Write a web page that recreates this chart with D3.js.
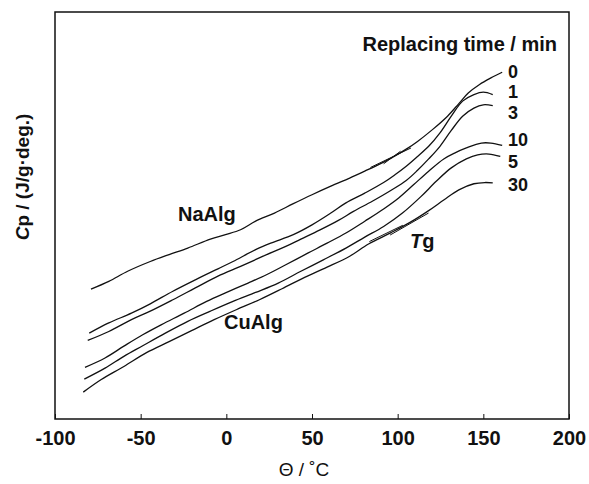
<!DOCTYPE html>
<html>
<head>
<meta charset="utf-8">
<script src="https://cdn.jsdelivr.net/npm/d3@7"></script>
<style>
  body { margin: 0; background: #fff; }
  text { font-family: "Liberation Sans", Arial, Helvetica, sans-serif; fill: #111; }
</style>
</head>
<body>
<div id="chart-area"></div>
<script>
// Cp in arbitrary units (the figure has no y tick values)
let seriesNames = ["0", "1", "3", "10", "5", "30"];

let min0 = [[-79,31.9],[-68.6,33.8],[-57.6,36.3],[-44.4,38.7],[-33.4,40.4],[-22.5,42.0],[-9.3,44.2],[-0.5,45.3],
  [8.3,46.5],[17.1,48.6],[28.1,50.6],[39.1,52.9],[50,55.1],[61,57.2],[72,59.2],[80.8,60.9],[87.4,62.2],[96.2,64.1],
  [105,66.3],[111.6,68.2],[120.3,71.1],[129.1,74.4],[135.7,77.5],[141.2,80.1],[147.8,82.2],[154.4,83.8],[161,85.2]];
let min1 = [[-80,21.1],[-68.6,23.6],[-55.4,26.0],[-44.4,28.3],[-31.2,31.4],[-18.1,34.2],[-4.9,36.9],[3.9,38.7],
  [17.1,41.6],[25.9,43.2],[39.1,45.3],[50,47.7],[61,50.6],[69.8,53.1],[80.8,55.5],[91.8,58.1],[98.4,60.0],[105,62.1],
  [111.6,64.5],[118.1,67.0],[124.7,70.3],[131.3,74.4],[137.9,78.1],[144.5,79.7],[150,80.3],[155.5,79.7]];
let min3 = [[-80.9,19.3],[-68.6,21.5],[-55.4,24.4],[-44.4,26.5],[-31.2,29.3],[-18.1,32.2],[-4.9,35.1],[8.3,37.5],
  [21.5,40.0],[34.7,42.4],[43.5,44.2],[54.4,46.4],[65.4,48.8],[74.2,51.0],[85.2,53.5],[96.2,56.2],[105,58.6],
  [111.6,61.1],[118.1,63.9],[124.7,67.0],[131.3,70.9],[137.9,74.4],[144.5,76.4],[150,77.2],[155.5,77.0]];
let min10 = [[-82.5,12.7],[-70.8,15.0],[-59.8,17.9],[-48.8,20.7],[-37.8,23.2],[-24.6,26.0],[-11.5,28.9],[-0.5,31.0],
  [12.7,33.4],[23.7,35.5],[34.7,37.9],[47.8,40.8],[58.8,43.2],[69.8,45.7],[80.8,48.6],[91.8,51.6],[100.6,54.3],
  [109.4,57.6],[118.1,60.9],[126.9,63.9],[133.5,65.4],[140.1,66.6],[148.9,67.8],[154.4,67.8],[161,67.2]];
let min5 = [[-82.9,9.8],[-70.8,12.5],[-59.8,15.4],[-48.8,18.0],[-35.6,21.1],[-22.5,24.0],[-9.3,26.5],[3.9,28.9],
  [17.1,31.1],[30.3,33.4],[43.5,36.3],[56.6,39.1],[69.8,42.0],[80.8,44.7],[91.8,47.3],[102.8,50.6],[113.7,54.7],
  [122.5,58.4],[131.3,61.7],[140.1,63.9],[146.7,64.9],[153.3,65.1],[159.9,64.5]];
let min30 = [[-83.5,6.6],[-73,9.7],[-59.8,12.9],[-46.6,16.3],[-33.4,19.0],[-20.3,21.7],[-7.1,24.4],[6.1,26.9],
  [19.3,29.3],[32.5,32.0],[45.7,34.8],[58.8,37.3],[72,40.0],[83,43.0],[96.2,45.8],[107.2,48.3],[118.1,51.2],
  [126.9,53.8],[135.7,56.3],[144.5,57.8],[150.9,58.1],[155.5,58.0]];

let curves = [min0, min1, min3, min10, min5, min30];

// tangent construction lines at Tg
let tgNa = [[[84.1,61.8],[107.8,66.6]], [[91.8,62.7],[101.7,65.8]]];
let tgCu = [[[83.5,43.6],[103,47.6]], [[95.6,45.2],[118,50.6]]];

let xTicks = [-100, -50, 0, 50, 100, 150, 200];

let width = 589, height = 484;
let plotLeft = 55, plotRight = 569, plotTop = 12, plotBottom = 419;

let svg = d3.select("#chart-area").append("svg")
  .attr("width", width).attr("height", height);

svg.append("rect").attr("width", width).attr("height", height).attr("fill", "#fff");

let x = d3.scaleLinear().domain([-100, 200]).range([plotLeft, plotRight]);
let y = d3.scaleLinear().domain([0, 100]).range([plotBottom, plotTop]);

// frame
svg.append("rect")
  .attr("x", plotLeft).attr("y", plotTop)
  .attr("width", plotRight - plotLeft).attr("height", plotBottom - plotTop)
  .attr("fill", "none").attr("stroke", "#111").attr("stroke-width", 1.5);

// bottom axis, ticks pointing inward, plain hyphen for negatives
let xAxis = d3.axisBottom(x).tickValues(xTicks).tickSize(-5).tickPadding(12).tickFormat(d => String(d));
let gx = svg.append("g").attr("transform", `translate(0,${plotBottom})`).call(xAxis);
gx.select(".domain").remove();
gx.selectAll("line").attr("stroke", "#111").attr("stroke-width", 1);
gx.selectAll("text")
  .attr("font-size", 20).attr("font-weight", "bold")
  .style("font-family", '"Liberation Sans", Arial, sans-serif').attr("fill", "#111");

let line = d3.line()
  .x(d => x(d[0]))
  .y(d => y(d[1]))
  .curve(d3.curveCatmullRom.alpha(0.5));

svg.selectAll("path.curve")
  .data(curves)
  .enter()
  .append("path")
    .attr("class", "curve")
    .attr("d", line)
    .attr("fill", "none")
    .attr("stroke", "#111")
    .attr("stroke-width", 1.3);

svg.selectAll("path.tg")
  .data(tgNa.concat(tgCu))
  .enter()
  .append("path")
    .attr("class", "tg")
    .attr("d", d3.line().x(d => x(d[0])).y(d => y(d[1])))
    .attr("fill", "none")
    .attr("stroke", "#111")
    .attr("stroke-width", 1);

// series labels next to the curve ends
let labelDy = [6, 3, 13, 1, 12, 8];
svg.selectAll("text.series")
  .data(curves)
  .enter()
  .append("text")
    .attr("class", "series")
    .attr("x", 508)
    .attr("y", (d, i) => y(d[d.length - 1][1]) + labelDy[i])
    .attr("font-size", 18).attr("font-weight", "bold")
    .text((d, i) => seriesNames[i]);

svg.append("text")
  .attr("x", 557).attr("y", 51)
  .attr("text-anchor", "end")
  .attr("font-size", 20).attr("font-weight", "bold")
  .text("Replacing time / min");

svg.append("text")
  .attr("x", 178).attr("y", 221)
  .attr("font-size", 20).attr("font-weight", "bold")
  .text("NaAlg");

svg.append("text")
  .attr("x", 224).attr("y", 329)
  .attr("font-size", 20).attr("font-weight", "bold")
  .text("CuAlg");

let tg = svg.append("text")
  .attr("x", 410).attr("y", 248)
  .attr("font-size", 20).attr("font-weight", "bold");
tg.append("tspan").attr("font-style", "italic").text("T");
tg.append("tspan").text("g");

// axis titles
let yl = svg.append("text")
  .attr("transform", "translate(29,177) rotate(-90)")
  .attr("text-anchor", "middle")
  .attr("font-size", 19)
  .attr("font-weight", "bold");
yl.append("tspan").attr("font-style", "italic").text("C");
yl.append("tspan").text("p / (J/g\u00b7deg.)");

svg.append("text")
  .attr("x", 304).attr("y", 476)
  .attr("text-anchor", "middle")
  .attr("font-size", 19)
  .text("\u0398 / \u02daC");
</script>
</body>
</html>
